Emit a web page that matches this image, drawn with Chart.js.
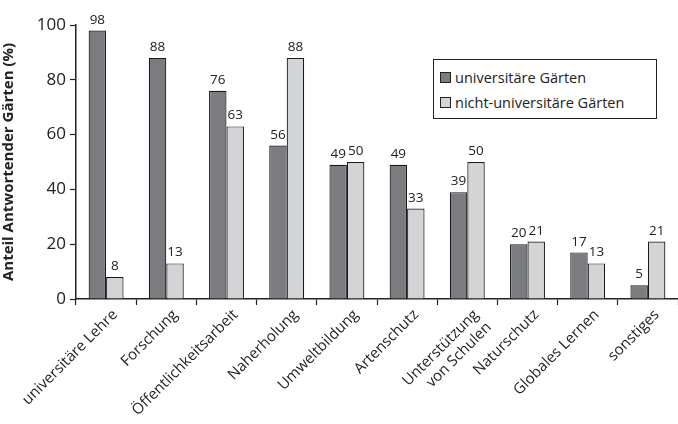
<!DOCTYPE html>
<html>
<head>
<meta charset="utf-8">
<script src="https://cdn.jsdelivr.net/npm/chart.js@4"></script>
<style>
    html, body { margin: 0; padding: 0; background: #fff; overflow: hidden; }
    #wrap { position: relative; width: 678px; height: 424px; }
    #legend {
        position: absolute; left: 433px; top: 59px; width: 224px; height: 60px;
        border: 1px solid #222; box-sizing: border-box; background: #fff;
        font-family: "Open Sans", sans-serif; font-size: 14.5px; color: #222;
        padding: 5px 0 0 6px;
    }
    #legend div { height: 25px; line-height: 25px; white-space: nowrap; }
    #legend span.box {
        display: inline-block; width: 9px; height: 9px; border: 1px solid #222;
        margin-right: 4px; vertical-align: 0px;
    }
</style>
</head>
<body>
<div id="wrap">
    <canvas id="chart" width="678" height="424"></canvas>
    <div id="legend">
        <div><span class="box" style="background:#7b7c80"></span>universitäre Gärten</div>
        <div><span class="box" style="background:#d3d4d6"></span>nicht-universitäre Gärten</div>
    </div>
</div>
<script>
// Données
const categories = [
    'universitäre Lehre', 'Forschung', 'Öffentlichkeitsarbeit', 'Naherholung',
    'Umweltbildung', 'Artenschutz', ['Unterstützung', 'von Schulen'],
    'Naturschutz', 'Globales Lernen', 'sonstiges'
];
const universitaer = [98, 88, 76, 56, 49, 49, 39, 20, 17, 5];
const nichtUniversitaer = [8, 13, 63, 88, 50, 33, 50, 21, 13, 21];
const yTicks = [0, 20, 40, 60, 80, 100];

const fontFamily = '"Open Sans", sans-serif';

// Plugin pour afficher les valeurs au-dessus des barres
const valueLabels = {
    id: 'valueLabels',
    afterDatasetsDraw(chart) {
        const ctx = chart.ctx;
        ctx.save();
        ctx.font = '13.5px ' + fontFamily;
        ctx.fillStyle = '#222';
        ctx.textAlign = 'center';
        ctx.textBaseline = 'bottom';
        chart.data.datasets.forEach((ds, i) => {
            chart.getDatasetMeta(i).data.forEach((bar, j) => {
                ctx.fillText(ds.data[j], bar.x, bar.y - 4);
            });
        });
        ctx.restore();
    }
};

new Chart(document.getElementById('chart'), {
    type: 'bar',
    data: {
        labels: categories,
        datasets: [{
            label: 'universitäre Gärten',
            data: universitaer,
            backgroundColor: '#7b7c80',
            borderColor: '#1a1a1a',
            borderWidth: 1.2,
            borderSkipped: 'bottom'
        }, {
            label: 'nicht-universitäre Gärten',
            data: nichtUniversitaer,
            backgroundColor: '#d3d4d6',
            borderColor: '#1a1a1a',
            borderWidth: 1.2,
            borderSkipped: 'bottom'
        }]
    },
    options: {
        responsive: false,
        animation: false,
        layout: { padding: { top: 25, right: -3, left: 0, bottom: 0 } },
        datasets: {
            bar: { categoryPercentage: 0.58, barPercentage: 1.0 }
        },
        plugins: {
            legend: { display: false },
            tooltip: { enabled: false }
        },
        scales: {
            x: {
                afterFit(scale) { scale.height = 125; },
                grid: {
                    offset: true,
                    drawOnChartArea: false,
                    drawTicks: true,
                    tickLength: 6,
                    tickWidth: 1.2,
                    tickColor: '#222',
                    color: '#222'
                },
                border: { color: '#222', width: 1.5 },
                ticks: {
                    color: '#222',
                    font: { family: fontFamily, size: 15 },
                    minRotation: 45,
                    maxRotation: 45,
                    autoSkip: false,
                    labelOffset: 9,
                    padding: 1
                }
            },
            y: {
                min: 0,
                max: 100,
                afterFit(scale) { scale.width = 76; },
                afterBuildTicks(scale) { scale.ticks = yTicks.map(v => ({ value: v })); },
                grid: {
                    drawOnChartArea: false,
                    drawTicks: true,
                    tickLength: 6,
                    tickWidth: 1.2,
                    tickColor: '#222',
                    color: '#222'
                },
                border: { color: '#222', width: 1.5 },
                ticks: {
                    color: '#222',
                    font: { family: fontFamily, size: 17 },
                    padding: 4
                },
                title: {
                    display: true,
                    text: 'Anteil Antwortender Gärten (%)',
                    color: '#222',
                    font: { family: fontFamily, size: 15, weight: 'bold' },
                    padding: { top: 0, bottom: 2 }
                }
            }
        }
    },
    plugins: [valueLabels]
});
</script>
</body>
</html>
